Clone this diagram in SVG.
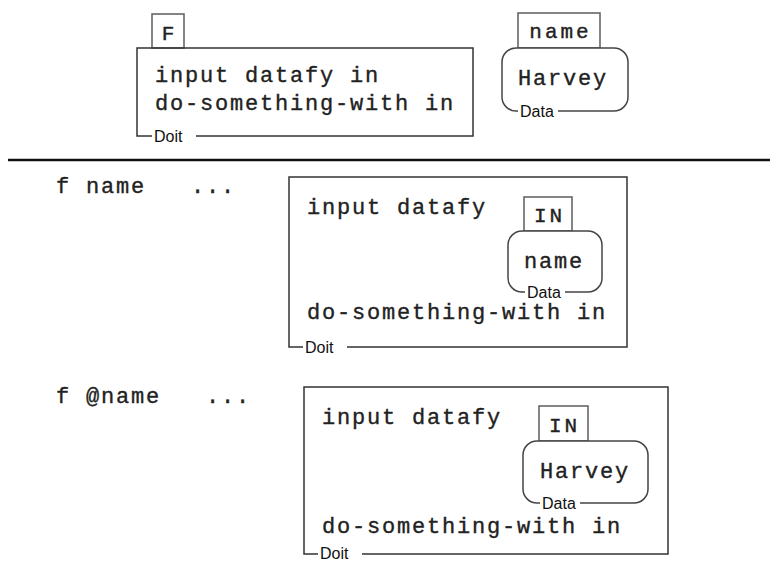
<svg xmlns="http://www.w3.org/2000/svg" width="770" height="561" viewBox="0 0 770 561">
<style>
.code{font-family:"Liberation Mono","Courier New",monospace;font-size:22px;letter-spacing:1.8px;fill:#222;stroke:#222;stroke-width:0.35}
.tab{font-family:"Liberation Mono","Courier New",monospace;font-size:21px;letter-spacing:3px;fill:#222;stroke:#222;stroke-width:0.4}
.lbl{font-family:"Liberation Sans",Arial,sans-serif;font-size:16px;fill:#111}
.box{fill:none;stroke:#333;stroke-width:1.5}
.tabbox{fill:#fff;stroke:#666;stroke-width:1.6}
.data{fill:#fff;stroke:#444;stroke-width:1.5}
.mask{fill:#fff}
</style>
<rect width="770" height="561" fill="#fff"/>
<g id="sep"><line x1="8" y1="160" x2="770" y2="160" stroke="#111" stroke-width="2.5"/></g>

<g id="F">
<rect class="tabbox" x="152" y="14" width="32" height="34"/>
<text class="tab" x="168" y="40" text-anchor="middle" dx="1.5">F</text>
<rect class="box" x="137" y="48" width="336" height="88"/>
<text class="code" x="155" y="82">input datafy in</text>
<text class="code" x="155" y="110">do-something-with in</text>
<rect class="mask" x="152" y="130" width="44" height="14"/>
<text class="lbl" x="154" y="142">Doit</text>
</g>

<g id="name">
<rect class="tabbox" x="518" y="13" width="82" height="35"/>
<text class="tab" x="559" y="38" text-anchor="middle" dx="1.5">name</text>
<rect class="data" x="502" y="48" width="126" height="63" rx="14"/>
<text class="code" x="518" y="85">Harvey</text>
<rect class="mask" x="518" y="105" width="40" height="14"/>
<text class="lbl" x="520" y="117">Data</text>
</g>

<g id="call1">
<text class="code" x="56" y="193" xml:space="preserve">f name   ...</text>
</g>

<g id="doit1">
<rect class="box" x="289" y="177" width="338" height="170"/>
<text class="code" x="307" y="214">input datafy</text>
<rect class="tabbox" x="524" y="197" width="48" height="34"/>
<text class="tab" x="548" y="222" text-anchor="middle" dx="1.5">IN</text>
<rect class="data" x="508" y="231" width="94" height="61" rx="14"/>
<text class="code" x="524" y="268">name</text>
<rect class="mask" x="525" y="286" width="40" height="14"/>
<text class="lbl" x="527" y="298">Data</text>
<text class="code" x="307" y="319">do-something-with in</text>
<rect class="mask" x="303" y="341" width="44" height="14"/>
<text class="lbl" x="305" y="353">Doit</text>
</g>

<g id="call2">
<text class="code" x="56" y="403" xml:space="preserve">f @name   ...</text>
</g>

<g id="doit2">
<rect class="box" x="304" y="387" width="364" height="167"/>
<text class="code" x="322" y="424">input datafy</text>
<rect class="tabbox" x="539" y="406" width="49" height="35"/>
<text class="tab" x="563" y="432" text-anchor="middle" dx="1.5">IN</text>
<rect class="data" x="523" y="441" width="125" height="62" rx="14"/>
<text class="code" x="540" y="478">Harvey</text>
<rect class="mask" x="540" y="497" width="40" height="14"/>
<text class="lbl" x="542" y="509">Data</text>
<text class="code" x="322" y="533">do-something-with in</text>
<rect class="mask" x="318" y="548" width="44" height="13"/>
<text class="lbl" x="320" y="559">Doit</text>
</g>
</svg>
